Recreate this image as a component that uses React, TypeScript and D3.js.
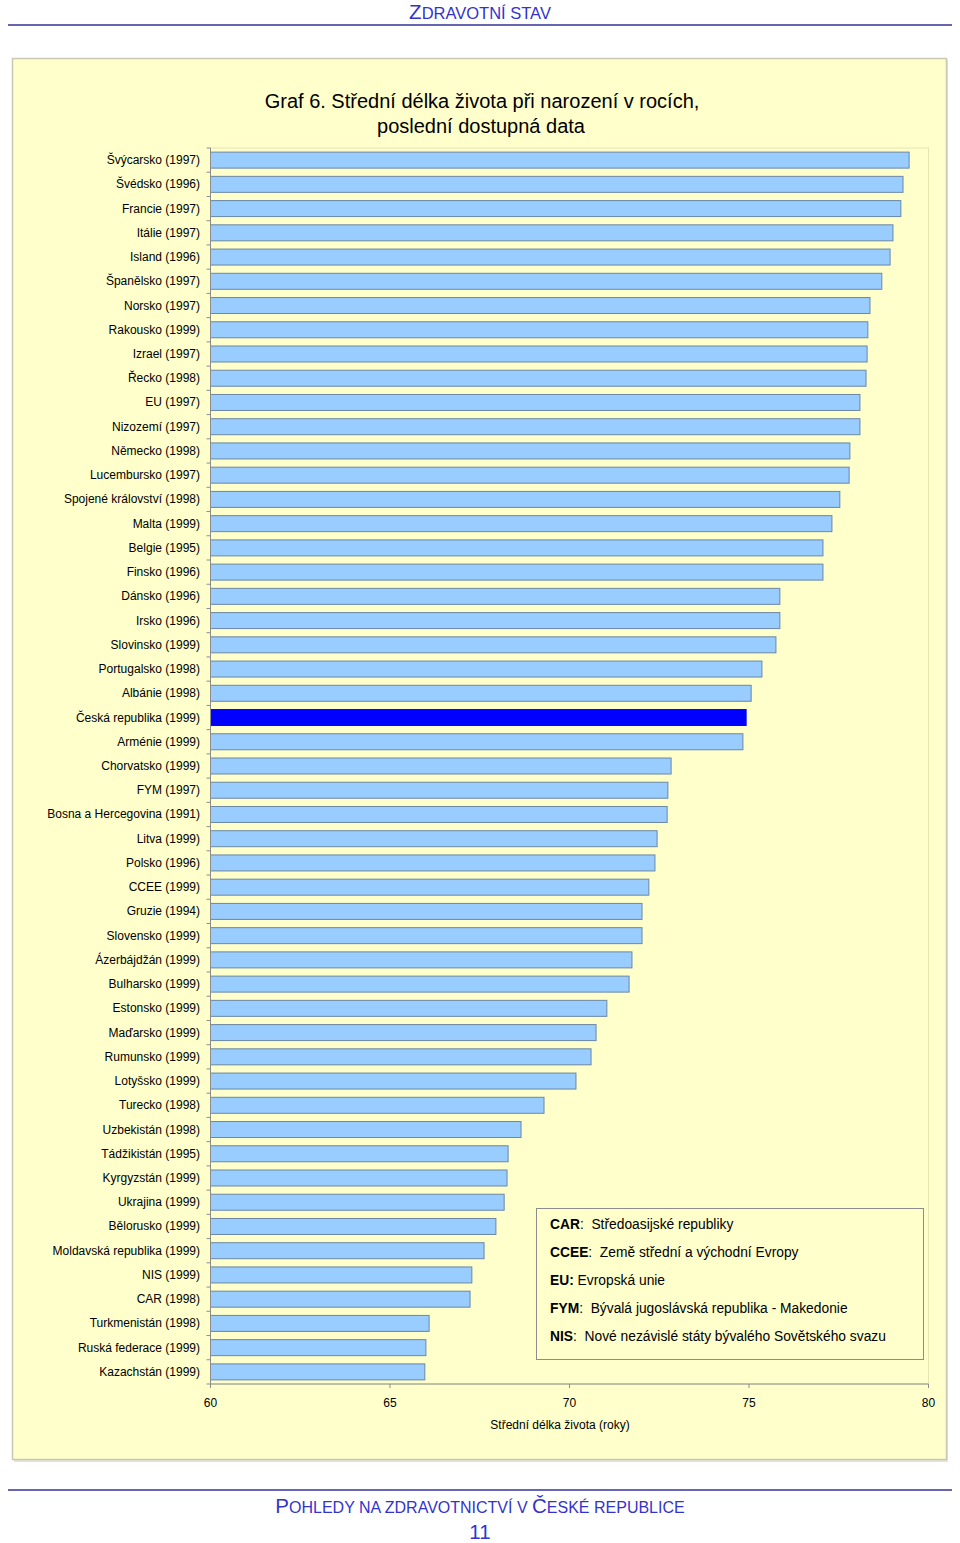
import React from "react";
import * as d3 from "d3";

const countries = [
  "Švýcarsko (1997)", "Švédsko (1996)", "Francie (1997)", "Itálie (1997)", "Island (1996)",
  "Španělsko (1997)", "Norsko (1997)", "Rakousko (1999)", "Izrael (1997)", "Řecko (1998)",
  "EU (1997)", "Nizozemí (1997)", "Německo (1998)", "Lucembursko (1997)", "Spojené království (1998)",
  "Malta (1999)", "Belgie (1995)", "Finsko (1996)", "Dánsko (1996)", "Irsko (1996)",
  "Slovinsko (1999)", "Portugalsko (1998)", "Albánie (1998)", "Česká republika (1999)", "Arménie (1999)",
  "Chorvatsko (1999)", "FYM (1997)", "Bosna a Hercegovina (1991)", "Litva (1999)", "Polsko (1996)",
  "CCEE (1999)", "Gruzie (1994)", "Slovensko (1999)", "Ázerbájdžán (1999)", "Bulharsko (1999)",
  "Estonsko (1999)", "Maďarsko (1999)", "Rumunsko (1999)", "Lotyšsko (1999)", "Turecko (1998)",
  "Uzbekistán (1998)", "Tádžikistán (1995)", "Kyrgyzstán (1999)", "Ukrajina (1999)", "Bělorusko (1999)",
  "Moldavská republika (1999)", "NIS (1999)", "CAR (1998)", "Turkmenistán (1998)", "Ruská federace (1999)",
  "Kazachstán (1999)",
];

const lifeExpectancy = [
  79.46, 79.29, 79.23, 79.01, 78.93,
  78.7, 78.37, 78.31, 78.29, 78.26,
  78.09, 78.09, 77.81, 77.79, 77.53,
  77.31, 77.06, 77.06, 75.86, 75.86,
  75.75, 75.36, 75.06, 74.92, 74.83,
  72.83, 72.74, 72.72, 72.44, 72.38,
  72.21, 72.02, 72.02, 71.74, 71.66,
  71.04, 70.74, 70.6, 70.18, 69.29,
  68.65, 68.29, 68.26, 68.18, 67.95,
  67.62, 67.28, 67.23, 66.09, 66.0,
  65.97,
];

const highlight = "Česká republika (1999)";
const xTicks = [60, 65, 70, 75, 80];

const legendAbbr = ["CAR", "CCEE", "EU", "FYM", "NIS"];
const legendBoldColon = [false, false, true, false, false];
const legendText = [
  "  Středoasijské republiky",
  "  Země střední a východní Evropy",
  " Evropská unie",
  "  Bývalá jugoslávská republika - Makedonie",
  "  Nové nezávislé státy bývalého Sovětského svazu",
];

const FONT = "'Liberation Sans', Arial, Helvetica, sans-serif";

export default function App() {
  const W = 960, H = 1543;
  const left = 210.5, right = 928.5, top = 148, bottom = 1384;
  const x = d3.scaleLinear().domain([60, 80]).range([left, right]);
  const y = d3.scaleBand<string>().domain(countries).range([top, bottom]).paddingInner(0.34).paddingOuter(0.17);
  const step = y.step();
  const blue = "#333399";
  const textBlue = "#3333cc";

  return (
    <svg width={W} height={H} style={{ position: "absolute", left: 0, top: 0, display: "block" }} fontFamily={FONT}>
      <rect width={W} height={H} fill="#ffffff" />
      {/* header */}
      <text x={480} y={19} textAnchor="middle" fill={textBlue}>
        <tspan fontSize={20.5}>Z</tspan>
        <tspan fontSize={16.5}>DRAVOTNÍ STAV</tspan>
      </text>
      <line x1={8} x2={952} y1={25} y2={25} stroke={blue} strokeWidth={1.5} />

      {/* chart frame */}
      <rect x={14} y={60} width={934} height={1402} fill="#e4e4d8" />
      <rect x={12.5} y={58.5} width={934} height={1401} fill="#ffffcc" stroke="#c8c8b4" strokeWidth={1.5} />

      {/* title */}
      <text x={482} y={108} textAnchor="middle" fontSize={20} fill="#000">
        Graf 6. Střední délka života při narození v rocích,
      </text>
      <text x={481} y={133} textAnchor="middle" fontSize={20} fill="#000">
        poslední dostupná data
      </text>

      {/* plot area border */}
      <rect x={left} y={top} width={right - left} height={bottom - top} fill="none" stroke="#e6e6b0" strokeWidth={1} />

      {/* bars */}
      {countries.map((c, i) => (
        <rect
          key={c}
          x={x(60)}
          y={y(c)!}
          width={x(lifeExpectancy[i]) - x(60)}
          height={y.bandwidth()}
          fill={c === highlight ? "#0000ff" : "#99ccff"}
          stroke={c === highlight ? "#0000ff" : "#6b87a3"}
          strokeWidth={1}
        />
      ))}

      {/* y axis */}
      <line x1={left} x2={left} y1={top} y2={bottom} stroke="#8c8c8c" />
      {d3.range(countries.length + 1).map((i) => (
        <line key={i} x1={left - 4} x2={left} y1={top + i * step} y2={top + i * step} stroke="#8c8c8c" />
      ))}
      {countries.map((c) => (
        <text key={c} x={200} y={y(c)! + y.bandwidth() / 2 + 4} textAnchor="end" fontSize={12} fill="#000">
          {c}
        </text>
      ))}

      {/* x axis */}
      <line x1={left} x2={right} y1={bottom} y2={bottom} stroke="#8c8c8c" />
      {xTicks.map((t) => (
        <g key={t}>
          <line x1={x(t)} x2={x(t)} y1={bottom} y2={bottom + 4} stroke="#8c8c8c" />
          <text x={x(t)} y={1407} textAnchor="middle" fontSize={12} fill="#000">{t}</text>
        </g>
      ))}
      <text x={560} y={1429} textAnchor="middle" fontSize={12} fill="#000">Střední délka života (roky)</text>

      {/* legend */}
      <rect x={536.5} y={1208.5} width={387} height={151} fill="#ffffcc" stroke="#8c8c8c" strokeWidth={1} />
      {legendAbbr.map((a, i) => (
        <text key={a} x={550} y={1229 + i * 28} fontSize={13.8} fill="#000" style={{ whiteSpace: "pre" }}>
          <tspan fontWeight="bold">{a}</tspan>
          <tspan fontWeight={legendBoldColon[i] ? "bold" : "normal"}>:</tspan>
          <tspan>{legendText[i]}</tspan>
        </text>
      ))}

      {/* footer */}
      <line x1={8} x2={952} y1={1490} y2={1490} stroke={blue} strokeWidth={1.5} />
      <text x={480} y={1513} textAnchor="middle" fill={textBlue}>
        <tspan fontSize={20.5}>P</tspan>
        <tspan fontSize={16}>OHLEDY NA ZDRAVOTNICTVÍ V </tspan>
        <tspan fontSize={20.5}>Č</tspan>
        <tspan fontSize={16}>ESKÉ REPUBLICE</tspan>
      </text>
      <text x={480} y={1539} textAnchor="middle" fill={textBlue} fontSize={20.5}>11</text>
    </svg>
  );
}
